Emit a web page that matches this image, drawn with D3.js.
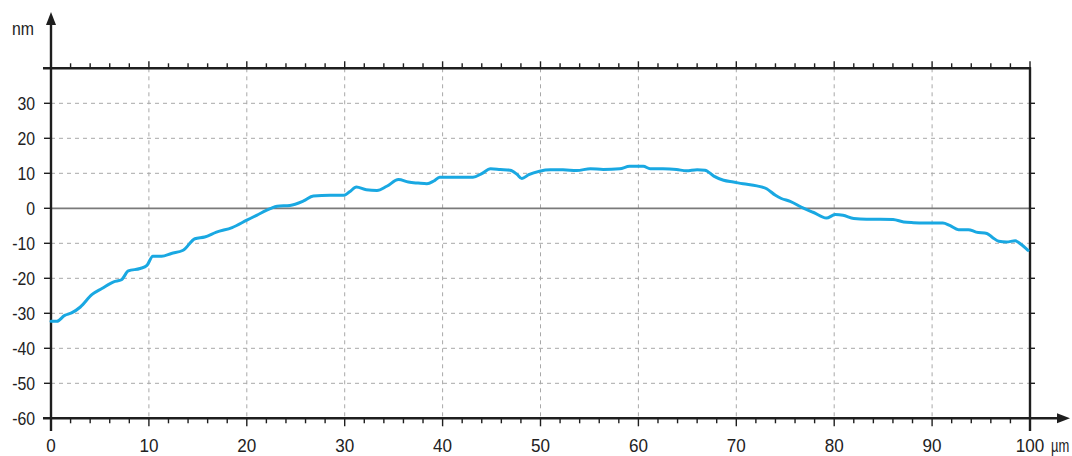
<!DOCTYPE html>
<html>
<head>
<meta charset="utf-8">
<script src="https://cdn.jsdelivr.net/npm/d3@7"></script>
<style>
  html, body { margin: 0; padding: 0; background: #fff; }
  svg text { font-family: "Liberation Sans", Arial, sans-serif; fill: #222; }
</style>
</head>
<body>
<svg id="chart" width="1072" height="456"></svg>
<script>
// profile position (µm) and height (nm)
const posUm = [0, 0.6, 1.4, 2.1, 3.0, 4.2, 5.2, 6.4, 7.2, 7.9, 9.1, 9.8, 10.4, 11.3, 12.3, 13.5, 14.7, 15.7, 16.9, 18.5, 20.0, 21.0, 22.4, 23.1, 24.4,
  25.8, 26.8, 28.5, 29.9, 30.5, 31.2, 32.2, 33.3, 34.3, 35.5, 36.5, 37.5, 38.4, 39.1, 39.7, 41.1, 43.1, 44.0, 44.9, 45.9, 46.9, 47.6, 48.1, 48.8, 49.9,
  51.0, 52.3, 53.7, 55.1, 56.4, 58.1, 59.1, 60.5, 61.2, 62.5, 63.9, 64.9, 66.0, 66.8, 67.7, 68.7, 69.7, 70.7, 72.1, 73.1, 74.0, 74.6, 75.5,
  76.8, 77.9, 79.2, 80.1, 80.9, 82.0, 83.3, 84.7, 86.0, 87.1, 88.1, 89.1, 91.1, 91.8, 92.7, 93.7, 94.5, 95.6, 96.2, 96.8, 97.6, 98.5, 99.0, 99.8];
const heightNm = [-32.3, -32.3, -30.6, -29.9, -28.2, -24.6, -22.9, -21.0, -20.4, -17.9, -17.2, -16.3, -13.7, -13.7, -12.9, -12.0, -8.7, -8.2, -6.8, -5.5, -3.4, -2.0, -0.1, 0.6, 0.8,
  2.1, 3.5, 3.7, 3.7, 4.7, 6.1, 5.3, 5.1, 6.3, 8.2, 7.5, 7.2, 7.0, 7.8, 8.9, 8.9, 8.9, 9.9, 11.3, 11.1, 10.9, 9.7, 8.5, 9.6, 10.6,
  11.0, 11.0, 10.8, 11.3, 11.1, 11.3, 12.0, 12.0, 11.3, 11.3, 11.1, 10.7, 11.0, 10.9, 9.2, 8.0, 7.5, 7.0, 6.4, 5.6, 3.7, 2.8, 2.0,
  0.1, -1.2, -2.8, -1.8, -2.0, -2.9, -3.1, -3.1, -3.2, -3.9, -4.1, -4.2, -4.2, -4.9, -6.1, -6.1, -6.8, -7.2, -8.4, -9.4, -9.6, -9.3, -10.1, -12.0];

const xTickLabels = [0, 10, 20, 30, 40, 50, 60, 70, 80, 90, 100];
const yTickLabels = [30, 20, 10, 0, -10, -20, -30, -40, -50, -60];

const svg = d3.select("#chart");

const x = d3.scaleLinear().domain([0, 100]).range([51, 1030]);
const y = d3.scaleLinear().domain([-60, 40]).range([418.3, 68.3]);

const axisColor = "#1e1e1e";
const squeeze = 0.88; // the labels use a condensed face

// grid
svg.append("g")
  .selectAll("line")
  .data(xTickLabels.filter(d => d > 0 && d < 100))
  .join("line")
  .attr("x1", d => x(d)).attr("x2", d => x(d))
  .attr("y1", y(40)).attr("y2", y(-60))
  .attr("stroke", "#a8a8a8").attr("stroke-width", 1).attr("stroke-dasharray", "4,4");

svg.append("g")
  .selectAll("line")
  .data(yTickLabels.filter(d => d !== 0 && d !== -60))
  .join("line")
  .attr("x1", x(0)).attr("x2", x(100))
  .attr("y1", d => y(d)).attr("y2", d => y(d))
  .attr("stroke", "#a8a8a8").attr("stroke-width", 1).attr("stroke-dasharray", "4,4");

// zero line
svg.append("line")
  .attr("x1", x(0)).attr("x2", x(100))
  .attr("y1", y(0)).attr("y2", y(0))
  .attr("stroke", "#7a7a7a").attr("stroke-width", 1.8);

// top frame with minor ticks
svg.append("line")
  .attr("x1", 43).attr("x2", x(100) + 1)
  .attr("y1", y(40)).attr("y2", y(40))
  .attr("stroke", axisColor).attr("stroke-width", 2.4);

const minor = d3.range(0, 101, 2);
svg.append("g")
  .selectAll("line")
  .data(minor)
  .join("line")
  .attr("x1", d => x(d)).attr("x2", d => x(d))
  .attr("y1", y(40)).attr("y2", d => y(40) - (d % 10 === 0 ? 7 : 5))
  .attr("stroke", axisColor).attr("stroke-width", 1.4);

// bottom axis
svg.append("line")
  .attr("x1", 43).attr("x2", 1062)
  .attr("y1", y(-60)).attr("y2", y(-60))
  .attr("stroke", axisColor).attr("stroke-width", 2.4);
svg.append("path")
  .attr("d", `M1070,${y(-60)} L1057,${y(-60) - 5} L1057,${y(-60) + 5} Z`)
  .attr("fill", axisColor);

svg.append("g")
  .selectAll("line")
  .data(minor)
  .join("line")
  .attr("x1", d => x(d)).attr("x2", d => x(d))
  .attr("y1", y(-60)).attr("y2", d => y(-60) + (d % 10 === 0 ? 8 : 5))
  .attr("stroke", axisColor).attr("stroke-width", 1.4);

// left axis with arrow
svg.append("line")
  .attr("x1", x(0)).attr("x2", x(0))
  .attr("y1", 431).attr("y2", 22)
  .attr("stroke", axisColor).attr("stroke-width", 2.4);
svg.append("path")
  .attr("d", `M${x(0)},12 L${x(0) - 5},25 L${x(0) + 5},25 Z`)
  .attr("fill", axisColor);

svg.append("g")
  .selectAll("line")
  .data(yTickLabels)
  .join("line")
  .attr("x1", x(0) - 7).attr("x2", x(0))
  .attr("y1", d => y(d)).attr("y2", d => y(d))
  .attr("stroke", axisColor).attr("stroke-width", 1.4);

// right frame
svg.append("line")
  .attr("x1", x(100)).attr("x2", x(100))
  .attr("y1", y(40) - 1).attr("y2", 431)
  .attr("stroke", axisColor).attr("stroke-width", 2.4);
svg.append("g")
  .selectAll("line")
  .data(yTickLabels.filter(d => d !== -60))
  .join("line")
  .attr("x1", x(100)).attr("x2", x(100) + 5)
  .attr("y1", d => y(d)).attr("y2", d => y(d))
  .attr("stroke", axisColor).attr("stroke-width", 1.4);

// tick labels
svg.append("g")
  .attr("font-size", 18)
  .attr("text-anchor", "end")
  .selectAll("text")
  .data(yTickLabels)
  .join("text")
  .attr("transform", d => `translate(35,${y(d) + 6.5}) scale(${squeeze},1)`)
  .text(d => d);

svg.append("g")
  .attr("font-size", 18)
  .attr("text-anchor", "middle")
  .selectAll("text")
  .data(xTickLabels)
  .join("text")
  .attr("transform", d => `translate(${x(d)},452) scale(0.95,1)`)
  .text(d => d);

svg.append("text")
  .attr("transform", `translate(${x(100) + 21},452) scale(0.72,1)`)
  .attr("font-size", 18)
  .text("µm");

svg.append("text")
  .attr("transform", `translate(12,35) scale(${squeeze},1)`)
  .attr("font-size", 18)
  .text("nm");

// profile
const points = posUm.map((p, i) => [p, heightNm[i]]);
const line = d3.line()
  .x(d => x(d[0]))
  .y(d => y(d[1]))
  .curve(d3.curveMonotoneX);

svg.append("path")
  .datum(points)
  .attr("fill", "none")
  .attr("stroke", "#19a8e2")
  .attr("stroke-width", 3)
  .attr("stroke-linejoin", "round")
  .attr("stroke-linecap", "round")
  .attr("d", line);
</script>
</body>
</html>
